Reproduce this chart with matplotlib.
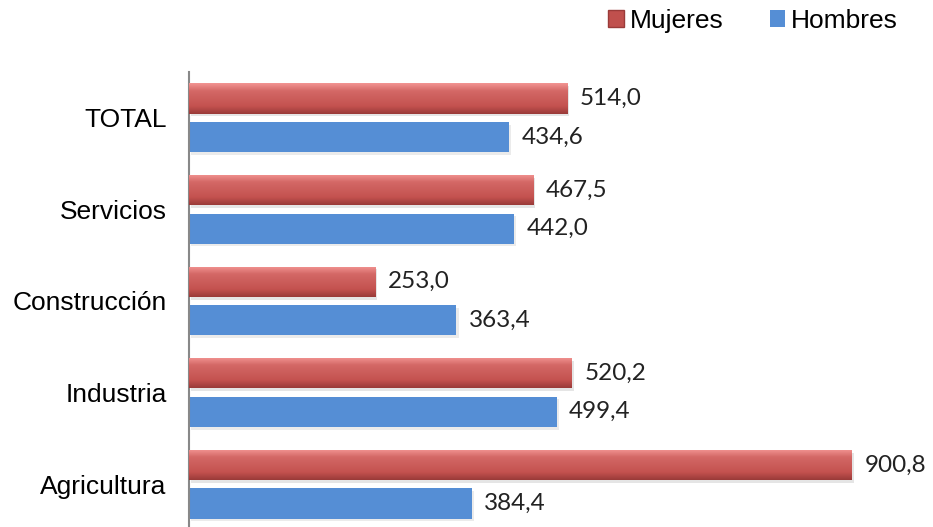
import numpy as np
import matplotlib.pyplot as plt
import matplotlib.colors as mcolors
from matplotlib.patches import Patch

# Datos por sector (de abajo arriba)
sectores = ['Agricultura', 'Industria', 'Construcción', 'Servicios', 'TOTAL']
mujeres = [900.8, 520.2, 253.0, 467.5, 514.0]
hombres = [384.4, 499.4, 363.4, 442.0, 434.6]

rojo = '#C0504D'
azul = '#558ED5'

fig = plt.figure(figsize=(9.33, 5.27), dpi=100)
ax = fig.add_axes([189 / 933, -3 / 527, 1 - 189 / 933, 458 / 527])

y = np.arange(len(sectores))
alto = 0.33
desp = 0.21

# gradiente vertical para las barras rojas (efecto biselado)
grad = mcolors.LinearSegmentedColormap.from_list(
    'bisel', ['#9A3B39', '#C4524F', '#CB5D5B', '#D46866', '#F29492'])

for yi, v in zip(y, mujeres):
    # sombra
    ax.barh(yi + desp - 0.03, v, height=alto, left=3, color='#000000',
            alpha=0.10, zorder=1)
    b = ax.barh(yi + desp, v, height=alto, color=rojo, zorder=2)[0]
    img = ax.imshow(np.linspace(0, 1, 64).reshape(-1, 1), cmap=grad,
                    aspect='auto', origin='lower',
                    extent=[0, v, yi + desp - alto / 2, yi + desp + alto / 2],
                    zorder=3)
    img.set_clip_path(b)
    ax.text(v + 17, yi + desp, f'{v:.1f}'.replace('.', ','), va='center',
            ha='left', fontsize=17.5, family='Lato', color='#222222')

for yi, v in zip(y, hombres):
    ax.barh(yi - desp - 0.03, v, height=alto, left=3, color='#000000',
            alpha=0.08, zorder=1)
    ax.barh(yi - desp, v, height=alto, color=azul, zorder=2)
    ax.text(v + 17, yi - desp, f'{v:.1f}'.replace('.', ','), va='center',
            ha='left', fontsize=17.5, family='Lato', color='#222222')

ax.set_xlim(0, 1011)
ax.set_ylim(-0.5, 4.5)
ax.set_yticks(y)
ax.set_yticklabels(sectores, fontsize=19, family='Liberation Sans')
ax.tick_params(axis='y', length=0, pad=16)
ax.set_xticks([])
for s in ['top', 'right', 'bottom']:
    ax.spines[s].set_visible(False)
ax.spines['left'].set_color('#888888')
ax.spines['left'].set_linewidth(1.5)

handles = [Patch(facecolor=rojo, edgecolor='#9A3B39', label='Mujeres'),
           Patch(facecolor=azul, label='Hombres')]
fig.legend(handles=handles, loc='center', bbox_to_anchor=(753 / 933, 1 - 21 / 527),
           ncol=2, frameon=False, prop={'family': 'Liberation Sans', 'size': 19},
           handlelength=0.6, handleheight=0.6, handletextpad=0.2,
           columnspacing=1.75)

fig.savefig('out.png', dpi=100)
